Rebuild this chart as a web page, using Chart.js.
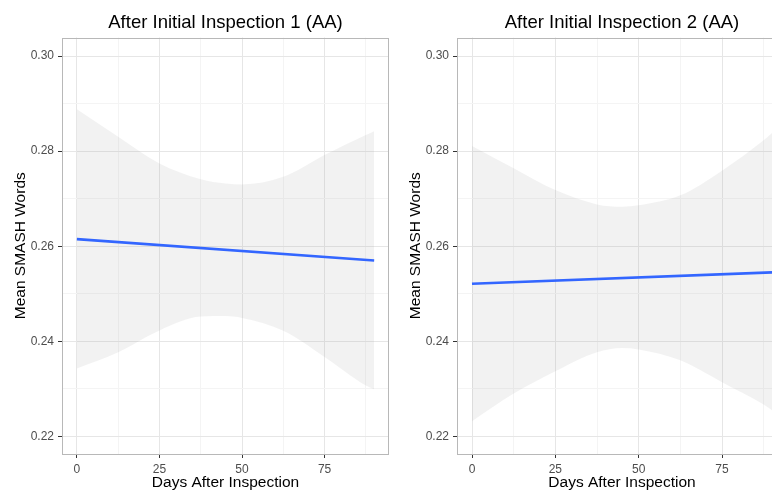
<!DOCTYPE html>
<html>
<head>
<meta charset="utf-8">
<script src="https://cdn.jsdelivr.net/npm/chart.js"></script>
<style>
  html, body { margin: 0; padding: 0; background: #fff; overflow: hidden; width: 772px; height: 493px; }
  canvas { position: absolute; top: 0; }
  #panel1 { left: 0; }
  #panel2 { left: 395px; }
</style>
</head>
<body>
<canvas id="panel1" width="392" height="493"></canvas>
<canvas id="panel2" width="400" height="493"></canvas>
<script>
// Values
const bandDays = [0, 12.5, 25, 37.5, 45, 50, 62.5, 75, 87.5, 90];
const fitDays = [0, 90];

const fit1 = [0.2615, 0.2570];
const upper1 = [0.2888, 0.2830, 0.2774, 0.2741, 0.2732, 0.2730, 0.2746, 0.2792, 0.2834, 0.2842];
const lower1 = [0.2343, 0.2377, 0.2423, 0.2452, 0.2453, 0.2449, 0.2422, 0.2367, 0.2307, 0.2299];

const fit2 = [0.2521, 0.2545];
const upper2 = [0.2811, 0.2764, 0.2718, 0.2688, 0.2683, 0.2686, 0.2707, 0.2759, 0.2823, 0.2838];
const lower2 = [0.2232, 0.2290, 0.2337, 0.2377, 0.2386, 0.2383, 0.2360, 0.2314, 0.2267, 0.2255];

const titles = ['After Initial Inspection 1 (AA)', 'After Initial Inspection 2 (AA)'];
const xLabel = 'Days After Inspection';
const yLabel = 'Mean SMASH Words';

const xMajor = [0, 25, 50, 75];
const xMinor = [12.5, 37.5, 62.5, 87.5];
const yMajor = [0.22, 0.24, 0.26, 0.28, 0.30];
const yMinor = [0.23, 0.25, 0.27, 0.29];

const FONT = 'Liberation Sans, Arial, Helvetica, sans-serif';

function pts(xs, ys) {
    return xs.map((x, i) => ({ x: x, y: ys[i] }));
}

// ggplot style panel border drawn on top
const borderPlugin = {
    id: 'panelBorder',
    afterDatasetsDraw(chart) {
        const a = chart.chartArea;
        const ctx = chart.ctx;
        ctx.save();
        ctx.strokeStyle = '#b8b8b8';
        ctx.lineWidth = 1;
        ctx.strokeRect(Math.round(a.left) + 0.5, Math.round(a.top) + 0.5,
            Math.round(a.right - a.left) - 1, Math.round(a.bottom - a.top) - 1);
        ctx.restore();
    }
};

function makePanel(id, title, fit, upper, lower, padRight) {
    const ctx = document.getElementById(id).getContext('2d');
    return new Chart(ctx, {
        type: 'line',
        data: {
            datasets: [{
                data: pts(fitDays, fit),
                borderColor: '#3366FF',
                borderWidth: 2.6,
                pointRadius: 0,
                fill: false
            }, {
                data: pts(bandDays, upper),
                borderWidth: 0,
                pointRadius: 0,
                cubicInterpolationMode: 'monotone',
                fill: '+1',
                backgroundColor: 'rgba(150, 150, 150, 0.12)'
            }, {
                data: pts(bandDays, lower),
                borderWidth: 0,
                pointRadius: 0,
                cubicInterpolationMode: 'monotone',
                fill: false
            }]
        },
        options: {
            responsive: false,
            animation: false,
            devicePixelRatio: 1,
            layout: { padding: { left: 0, right: padRight, top: 0, bottom: 0 } },
            plugins: {
                legend: { display: false },
                tooltip: { enabled: false },
                title: {
                    display: true,
                    text: title,
                    fullSize: false,
                    color: '#000',
                    font: { family: FONT, size: 18.5, weight: 'normal' },
                    padding: { top: 12, bottom: 3.3 }
                }
            },
            scales: {
                x: {
                    type: 'linear',
                    min: -4.5,
                    max: 94.5,
                    afterBuildTicks: axis => {
                        axis.ticks = xMajor.concat(xMinor).sort((a, b) => a - b).map(v => ({ value: v }));
                    },
                    afterFit: axis => { axis.height = 39; },
                    ticks: {
                        autoSkip: false,
                        maxRotation: 0,
                        padding: 4,
                        color: '#4d4d4d',
                        font: { family: FONT, size: 12 },
                        callback: v => xMajor.includes(v) ? String(v) : ''
                    },
                    grid: {
                        tickLength: 4,
                        color: c => xMajor.includes(c.tick.value) ? '#e6e6e6' : '#f4f4f4',
                        tickColor: c => xMajor.includes(c.tick.value) ? '#333' : 'rgba(0,0,0,0)'
                    },
                    border: { display: false },
                    title: {
                        display: true,
                        text: xLabel,
                        color: '#000',
                        font: { family: FONT, size: 15.5 },
                        padding: { top: 0, bottom: 1 }
                    }
                },
                y: {
                    type: 'linear',
                    min: 0.2163,
                    max: 0.3039,
                    afterBuildTicks: axis => {
                        axis.ticks = yMajor.concat(yMinor).sort((a, b) => a - b).map(v => ({ value: v }));
                    },
                    afterFit: axis => { axis.width = 62; },
                    ticks: {
                        autoSkip: false,
                        padding: 4,
                        color: '#4d4d4d',
                        font: { family: FONT, size: 12 },
                        callback: v => yMajor.includes(v) ? v.toFixed(2) : ''
                    },
                    grid: {
                        tickLength: 4,
                        color: c => yMajor.includes(c.tick.value) ? '#e6e6e6' : '#f4f4f4',
                        tickColor: c => yMajor.includes(c.tick.value) ? '#333' : 'rgba(0,0,0,0)'
                    },
                    border: { display: false },
                    title: {
                        display: true,
                        text: yLabel,
                        color: '#000',
                        font: { family: FONT, size: 15.5 },
                        padding: { top: 11, bottom: 0 }
                    }
                }
            }
        },
        plugins: [borderPlugin]
    });
}

makePanel('panel1', titles[0], fit1, upper1, lower1, 3);
makePanel('panel2', titles[1], fit2, upper2, lower2, 8);
</script>
</body>
</html>
